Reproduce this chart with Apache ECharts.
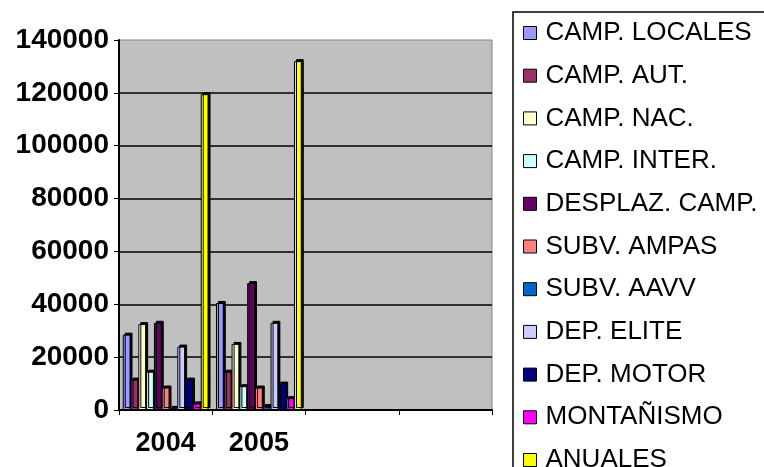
<!DOCTYPE html>
<html>
<head>
<meta charset="utf-8">
<script src="https://cdn.jsdelivr.net/npm/echarts@6/dist/echarts.min.js"></script>
<style>
  html, body { margin: 0; padding: 0; background: #fff; }
  #chart { width: 764px; height: 467px; }
</style>
</head>
<body>
<div id="chart"></div>
<script>
// categorias del eje X (dos años + dos huecos vacíos)
const years = ['2004', '2005', '', '']
const yTicks = [0, 20000, 40000, 60000, 80000, 100000, 120000, 140000]

// valores por serie
const campLocales = [28500, 40500]
const campAut = [11500, 14500]
const campNac = [32500, 25000]
const campInter = [14500, 9000]
const desplazCamp = [33000, 48000]
const subvAmpas = [8500, 8500]
const subvAavv = [800, 1500]
const depElite = [24000, 33000]
const depMotor = [11500, 10000]
const montanismo = [2500, 4500]
const anuales = [119500, 132000]

const seriesNames = ['CAMP. LOCALES', 'CAMP. AUT.', 'CAMP. NAC.', 'CAMP. INTER.', 'DESPLAZ. CAMP.',
  'SUBV. AMPAS', 'SUBV. AAVV', 'DEP. ELITE', 'DEP. MOTOR', 'MONTAÑISMO', 'ANUALES']
const seriesValues = [campLocales, campAut, campNac, campInter, desplazCamp,
  subvAmpas, subvAavv, depElite, depMotor, montanismo, anuales]
const colors = ['#9999FF', '#993366', '#FFFFCC', '#CCFFFF', '#660066',
  '#FF8080', '#0066CC', '#CCCCFF', '#000080', '#FF00FF', '#FFFF00']

const font = '"Liberation Sans", Arial, sans-serif'
const chart = echarts.init(document.getElementById('chart'))

chart.setOption({
  animation: false,
  color: colors,
  grid: {
    left: 119,
    right: 272,
    top: 40,
    bottom: 57,
    show: true,
    backgroundColor: '#C0C0C0',
    borderColor: '#808080',
    borderWidth: 1
  },
  legend: {
    orient: 'vertical',
    left: 513,
    top: 12,
    height: 520,
    padding: [8, 60, 40, 10],
    borderColor: '#000',
    borderWidth: 1.5,
    itemWidth: 13,
    itemHeight: 13,
    itemGap: 16.7,
    icon: 'rect',
    itemStyle: { borderColor: '#000', borderWidth: 1 },
    textStyle: { fontFamily: font, fontSize: 26, color: '#000', padding: [0, 0, 0, 4] },
    data: seriesNames
  },
  xAxis: {
    type: 'category',
    data: years,
    axisLine: { lineStyle: { color: '#000', width: 2 } },
    axisTick: { show: true, length: 5, lineStyle: { color: '#000' } },
    axisLabel: { fontFamily: font, fontSize: 27, fontWeight: 'bold', color: '#000', margin: 20 }
  },
  yAxis: {
    type: 'value',
    min: yTicks[0],
    max: yTicks[yTicks.length - 1],
    interval: 20000,
    axisLine: { show: true, lineStyle: { color: '#000', width: 2 } },
    axisTick: { show: true, length: 5, lineStyle: { color: '#000' } },
    axisLabel: {
      fontFamily: font, fontSize: 28, fontWeight: 'bold', color: '#000', margin: 10,
      formatter: v => String(v)
    },
    splitLine: { show: true, showMinLine: false, showMaxLine: false, lineStyle: { color: '#000', width: 1.5 } }
  },
  series: seriesNames.map((name, i) => ({
    name: name,
    type: 'bar',
    data: seriesValues[i],
    barGap: '0%',
    barCategoryGap: '8%',
    itemStyle: {
      borderColor: '#000',
      borderWidth: 1,
      shadowColor: '#000',
      shadowBlur: 0,
      shadowOffsetX: 2,
      shadowOffsetY: -2
    }
  }))
})
</script>
</body>
</html>
